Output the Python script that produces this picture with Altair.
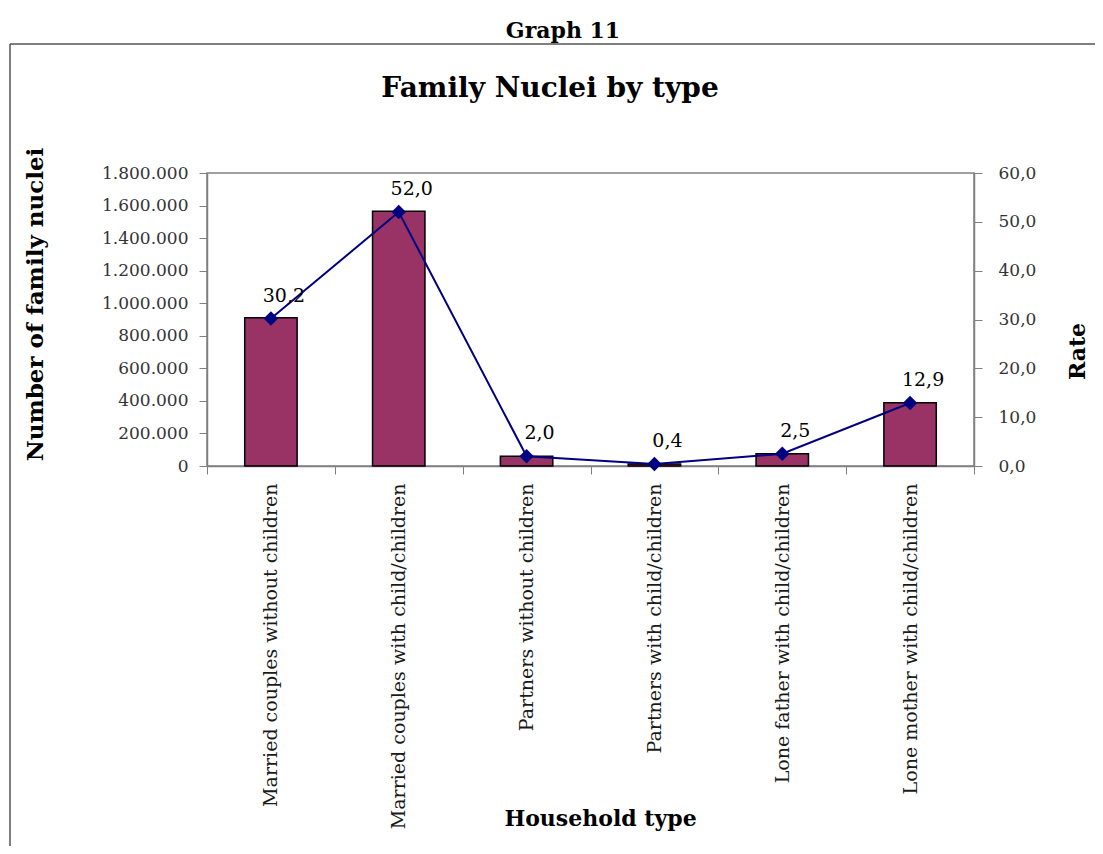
import altair as alt
import pandas as pd

categories = [
    "Married couples without children",
    "Married couples with child/children",
    "Partners without children",
    "Partners with child/children",
    "Lone father with child/children",
    "Lone mother with child/children",
]
counts = [910000, 1565000, 60000, 12000, 75000, 388000]
rates = [30.2, 52.0, 2.0, 0.4, 2.5, 12.9]
count_ticks = [0, 200000, 400000, 600000, 800000, 1000000, 1200000, 1400000, 1600000, 1800000]
rate_ticks = [0, 10, 20, 30, 40, 50, 60]

df = pd.DataFrame({"type": categories, "count": counts, "rate": rates})

FONT = "DejaVu Serif"
GRAY = "#808080"

x_enc = alt.X(
    "type:N", sort=categories,
    scale=alt.Scale(paddingInner=0, paddingOuter=0),
    axis=alt.Axis(
        title="Household type", labelAngle=270, labelFont=FONT, labelFontSize=19,
        labelColor="#1a1a1a", labelPadding=9, labelLimit=400,
        tickBand="extent", tickSize=8, tickColor=GRAY, domainColor=GRAY,
        domainWidth=1.5, titleFont=FONT, titleFontSize=22, titleFontWeight="bold",
        titleColor="black", titleX=393, titleY=352, titleAlign="center",
        titleBaseline="middle",
    ),
)

bars = alt.Chart(df).mark_bar(
    color="#993366", stroke="black", strokeWidth=1.5, width=alt.RelativeBandSize(0.41)
).encode(
    x=x_enc,
    y=alt.Y(
        "count:Q", scale=alt.Scale(domain=[0, 1800000], nice=False),
        axis=alt.Axis(
            title="Number of family nuclei", values=count_ticks,
            labelExpr="replace(replace(format(datum.value, ','), ',', '.'), ',', '.')",
            labelFont=FONT, labelFontSize=17, labelColor="#333333", labelPadding=11,
            tickSize=8, tickColor=GRAY, domainColor=GRAY, domainWidth=1.5, grid=False,
            titleFont=FONT, titleFontSize=23, titleFontWeight="bold", titleColor="black",
            titleX=-172, titleY=131, titleAlign="center", titleBaseline="middle",
            titleAngle=270,
        ),
    ),
)

y_rate = alt.Y(
    "rate:Q", scale=alt.Scale(domain=[0, 60], nice=False),
    axis=alt.Axis(
        orient="right", title="Rate", values=rate_ticks,
        labelExpr="replace(format(datum.value, '.1f'), '.', ',')",
        labelFont=FONT, labelFontSize=17, labelColor="#333333", labelPadding=16,
        tickSize=8, tickColor=GRAY, domainColor=GRAY, domainWidth=1.5, grid=False,
        titleFont=FONT, titleFontSize=22, titleFontWeight="bold", titleColor="black",
        titleX=103, titleY=178, titleAlign="center", titleBaseline="middle",
        titleAngle=270,
    ),
)

line = alt.Chart(df).mark_line(color="#000080", strokeWidth=2).encode(
    x=alt.X("type:N", sort=categories), y=y_rate
)
points = alt.Chart(df).mark_point(
    shape="diamond", filled=True, color="#000080", size=210, opacity=1
).encode(x=alt.X("type:N", sort=categories), y=alt.Y("rate:Q"))
labels = alt.Chart(df).transform_calculate(
    label="replace(format(datum.rate, '.1f'), '.', ',')"
).mark_text(font=FONT, fontSize=19, color="black", dx=13, dy=-23, baseline="middle").encode(
    x=alt.X("type:N", sort=categories), y=alt.Y("rate:Q"), text="label:N"
)

rate_layer = alt.layer(line, points, labels)

frame_df = pd.DataFrame({"a": [0]})
top_rule = alt.Chart(frame_df).mark_rule(color="#555555", strokeWidth=1.5).encode(
    x=alt.value(-197), x2=alt.value(1000), y=alt.value(-129)
)
left_rule = alt.Chart(frame_df).mark_rule(color="#555555", strokeWidth=1.5).encode(
    x=alt.value(-197), y=alt.value(-129), y2=alt.value(700)
)
graph_title = alt.Chart(frame_df).mark_text(
    font=FONT, fontSize=22, fontWeight="bold", color="black", align="center",
    baseline="alphabetic", text="Graph 11",
).encode(x=alt.value(356), y=alt.value(-135))
main_title = alt.Chart(frame_df).mark_text(
    font=FONT, fontSize=28, fontWeight="bold", color="black", align="center",
    baseline="alphabetic", text="Family Nuclei by type",
).encode(x=alt.value(343), y=alt.value(-76))

chart = alt.layer(
    bars, rate_layer, top_rule, left_rule, graph_title, main_title
).resolve_scale(
    y="independent"
).properties(
    width=767, height=293,
    autosize=alt.AutoSizeParams(type="none"),
    padding={"left": 199, "top": 165, "right": 121, "bottom": 380},
).configure_view(stroke=GRAY, strokeWidth=1.5)

chart.save("out.html", embed_options={"renderer": "svg", "actions": False})
